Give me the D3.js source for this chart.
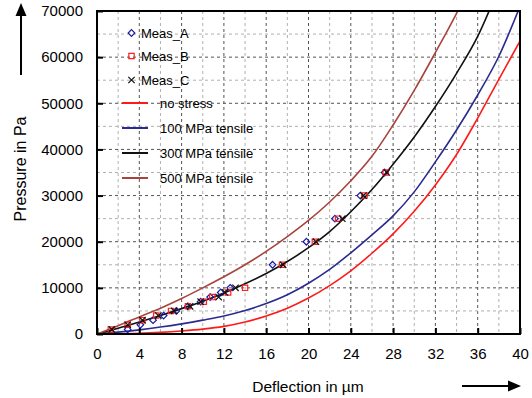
<!DOCTYPE html>
<html>
<head>
<meta charset="utf-8">
<script src="https://cdnjs.cloudflare.com/ajax/libs/d3/7.8.5/d3.min.js"></script>
<style>
body { margin: 0; background: #fff; }
text { font-family: Arial, "Liberation Sans", sans-serif; fill: #000; }
.grid-major { stroke: #555; stroke-dasharray: 3,3; stroke-width: 1; }
.grid-minor { stroke: #b0b0b0; stroke-dasharray: 3,3; stroke-width: 1; }
.curve { fill: none; stroke-width: 1.6; }
</style>
</head>
<body>
<div id="chart"></div>
<script>
var deflection = [0, 2, 4, 6, 8, 10, 12, 14, 16, 18, 20, 22, 24, 26, 28, 30, 32, 34, 36, 38, 40];
// pressure (Pa) of each model curve
var noStress   = [0, 30, 150, 350, 650, 1050, 1650, 2600, 3900, 5600, 7800, 10500, 13700, 17500, 21700, 26600, 32300, 38900, 46800, 55200, 63500];
var tensile100 = [0, 400, 900, 1500, 2200, 3000, 3900, 5100, 6600, 8500, 11000, 14000, 17600, 21500, 25600, 30800, 37300, 44200, 51800, 60200, 71000];
var tensile300 = [0, 1250, 2600, 4000, 5500, 7100, 8900, 10900, 13100, 15700, 18700, 22200, 26500, 31300, 36800, 42700, 49300, 56500, 64500, 75000, 86000];
var tensile500 = [0, 1800, 3700, 5600, 7700, 10000, 12400, 15000, 17900, 21100, 24600, 28600, 33200, 38500, 45300, 52800, 61000, 69500, 79000, 89000, 100000];

// measured points: pressure steps and deflection of each sample
var measPressure = [1000, 2000, 3000, 4000, 5000, 6000, 7000, 8000, 9000, 10000, 15000, 20000, 25000, 30000, 35000];
var measA = [2.9, 4.1, 5.3, 6.3, 7.5, 8.6, 9.8, 10.7, 11.7, 12.6, 16.6, 19.8, 22.5, 24.9, 27.2];
var measB = [1.3, 2.9, 4.3, 5.6, 7.0, 8.6, 10.1, 10.9, 12.4, 14.0, 17.5, 20.6, 22.8, 25.3, 27.3];
var measC = [1.4, 2.9, 4.3, 5.8, 7.3, 8.8, 9.8, 11.5, 12.1, 13.1, 17.6, 20.7, 23.2, 25.2, 27.4];

var xTicks = [0, 4, 8, 12, 16, 20, 24, 28, 32, 36, 40];
var yTicks = [0, 10000, 20000, 30000, 40000, 50000, 60000, 70000];

var curves = [
  {name: "no stress",          color: "#ff1a1a", values: noStress},
  {name: "100 MPa tensile",    color: "#2a2a90", values: tensile100},
  {name: "300 MPa tensile",    color: "#111111", values: tensile300},
  {name: "500 MPa tensile",    color: "#a8443c", values: tensile500}
];

var W = 532, H = 398;
var pLeft = 97, pRight = 520, pTop = 11, pBottom = 334;

var svg = d3.select("#chart").append("svg")
    .attr("width", W)
    .attr("height", H);

var x = d3.scaleLinear().domain([0, 40]).range([pLeft, pRight]);
var y = d3.scaleLinear().domain([0, 70000]).range([pBottom, pTop]);

svg.append("defs").append("clipPath").attr("id", "plot")
  .append("rect")
    .attr("x", pLeft).attr("y", pTop)
    .attr("width", pRight - pLeft).attr("height", pBottom - pTop);

/*---- grid ----*/
var grid = svg.append("g");
d3.range(2, 40, 2).forEach(function(v) {
  grid.append("line")
    .attr("class", v % 4 == 0 ? "grid-major" : "grid-minor")
    .attr("x1", x(v)).attr("x2", x(v))
    .attr("y1", pTop).attr("y2", pBottom);
});
d3.range(5000, 70000, 5000).forEach(function(v) {
  grid.append("line")
    .attr("class", v % 10000 == 0 ? "grid-major" : "grid-minor")
    .attr("x1", pLeft).attr("x2", pRight)
    .attr("y1", y(v)).attr("y2", y(v));
});

/*---- model curves ----*/
var line = d3.line()
    .curve(d3.curveMonotoneX)
    .x(function(d) { return x(d[0]); })
    .y(function(d) { return y(d[1]); });

var plot = svg.append("g").attr("clip-path", "url(#plot)");
curves.forEach(function(c) {
  plot.append("path")
    .attr("class", "curve")
    .attr("stroke", c.color)
    .attr("d", line(deflection.map(function(d, i) { return [d, c.values[i]]; })));
});

/*---- measured points ----*/
var diamond = d3.symbol().type(d3.symbolDiamond2).size(28);
var square = d3.symbol().type(d3.symbolSquare2).size(36);
var cross = d3.symbol().type(d3.symbolX).size(28);

function drawMeas(vals, sym, color) {
  plot.append("g").selectAll("path")
    .data(vals)
    .enter()
    .append("path")
    .attr("d", sym)
    .attr("transform", function(d, i) { return "translate(" + x(d) + "," + y(measPressure[i]) + ")"; })
    .attr("fill", "none")
    .attr("stroke", color)
    .attr("stroke-width", 1.2);
}
drawMeas(measA, diamond, "#1a1aa8");
drawMeas(measB, square, "#ff2020");
drawMeas(measC, cross, "#111");

/*---- frame + axes ----*/
svg.append("rect")
  .attr("x", pLeft).attr("y", pTop)
  .attr("width", pRight - pLeft).attr("height", pBottom - pTop)
  .attr("fill", "none").attr("stroke", "#000").attr("stroke-width", 2);

var xAxis = svg.append("g")
  .attr("transform", "translate(0," + pBottom + ")")
  .call(d3.axisBottom(x).tickValues(xTicks).tickSize(-6).tickPadding(14));
var yAxis = svg.append("g")
  .attr("transform", "translate(" + pLeft + ",0)")
  .call(d3.axisLeft(y).tickValues(yTicks).tickSize(-6).tickPadding(14).tickFormat(d3.format("d")));

[xAxis, yAxis].forEach(function(a) {
  a.select(".domain").remove();
  a.selectAll(".tick line").attr("stroke", "#000").attr("stroke-width", 2);
  a.selectAll(".tick text").style("font-size", "15px").attr("fill", "#000");
});

/*---- titles + arrows ----*/
svg.append("text")
  .attr("x", 308).attr("y", 392)
  .attr("text-anchor", "middle")
  .style("font-size", "15.5px")
  .text("Deflection in µm");

svg.append("text")
  .attr("transform", "translate(26,169) rotate(-90)")
  .attr("text-anchor", "middle")
  .style("font-size", "16px")
  .text("Pressure in Pa");

svg.append("line")
  .attr("x1", 21).attr("x2", 21).attr("y1", 75).attr("y2", 12)
  .attr("stroke", "#000").attr("stroke-width", 2);
svg.append("path")
  .attr("d", "M21,3 L15.5,16 L26.5,16 Z").attr("fill", "#000");

svg.append("line")
  .attr("x1", 462).attr("x2", 512).attr("y1", 386).attr("y2", 386)
  .attr("stroke", "#000").attr("stroke-width", 2);
svg.append("path")
  .attr("d", "M521,386 L508,380.5 L508,391.5 Z").attr("fill", "#000");

/*---- legend ----*/
var legend = svg.append("g");
var markerRows = [
  {name: "Meas_A", sym: diamond, color: "#1a1aa8", y: 33},
  {name: "Meas_B", sym: square, color: "#ff2020", y: 56},
  {name: "Meas_C", sym: cross, color: "#111", y: 80}
];
markerRows.forEach(function(r) {
  legend.append("path")
    .attr("d", r.sym)
    .attr("transform", "translate(131.5," + r.y + ")")
    .attr("fill", "none").attr("stroke", r.color).attr("stroke-width", 1.2);
  legend.append("text")
    .attr("x", 141).attr("y", r.y + 5)
    .style("font-size", "13px")
    .text(r.name);
});
curves.forEach(function(c, i) {
  var ly = 103 + i * 25;
  legend.append("line")
    .attr("x1", 122).attr("x2", 148).attr("y1", ly).attr("y2", ly)
    .attr("stroke", c.color).attr("stroke-width", 2);
  legend.append("text")
    .attr("x", 160).attr("y", ly + 5)
    .style("font-size", "13px")
    .text(c.name);
});
</script>
</body>
</html>
